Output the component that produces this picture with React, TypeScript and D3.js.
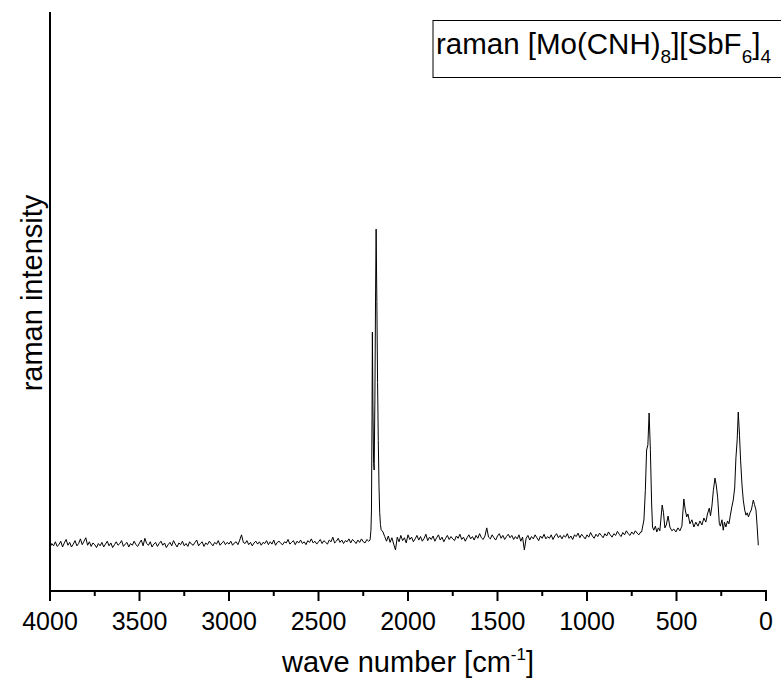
import React from 'react';
import * as d3 from 'd3';

// ---- Data ----
const xMajorTicks = [4000, 3500, 3000, 2500, 2000, 1500, 1000, 500, 0];
const xMinorTicks = [3750, 3250, 2750, 2250, 1750, 1250, 750, 250];

// 4000 -> 2220 cm-1 baseline
const highWn = [
  4000,3990,3980,3970,3960,3950,3940,3930,3920,3910,
  3900,3890,3880,3870,3860,3850,3840,3830,3820,3810,
  3800,3790,3780,3770,3760,3750,3740,3730,3720,3710,
  3700,3690,3680,3670,3660,3650,3640,3630,3620,3610,
  3600,3590,3580,3570,3560,3550,3540,3530,3520,3510,
  3500,3490,3480,3470,3460,3450,3440,3430,3420,3410,
  3400,3390,3380,3370,3360,3350,3340,3330,3320,3310,
  3300,3290,3280,3270,3260,3250,3240,3230,3220,3210,
  3200,3190,3180,3170,3160,3150,3140,3130,3120,3110,
  3100,3090,3080,3070,3060,3050,3040,3030,3020,3010,
  3000,2990,2980,2970,2960,2950,2940,2930,2920,2910,
  2900,2890,2880,2870,2860,2850,2840,2830,2820,2810,
  2800,2790,2780,2770,2760,2750,2740,2730,2720,2710,
  2700,2690,2680,2670,2660,2650,2640,2630,2620,2610,
  2600,2590,2580,2570,2560,2550,2540,2530,2520,2510,
  2500,2490,2480,2470,2460,2450,2440,2430,2420,2410,
  2400,2390,2380,2370,2360,2350,2340,2330,2320,2310,
  2300,2290,2280,2270,2260,2250,2240,2230,2220,
];
const highI = [
  7.5, 8.2, 7.8, 8.5, 7.7, 8.0, 8.6, 7.6, 8.3, 8.9,
  7.9, 8.4, 7.6, 8.1, 8.7, 7.8, 8.2, 9.0, 8.0, 8.6,
  9.2, 7.9, 8.5, 7.7, 8.3, 8.0, 7.5, 8.2, 7.8, 8.4,
  7.6, 8.1, 8.6, 7.8, 8.3, 7.5, 8.0, 8.5, 7.9, 8.2,
  8.7, 7.7, 8.1, 8.4, 7.6, 8.2, 7.9, 8.6, 8.0, 7.7,
  8.3, 8.8, 7.8, 9.1, 8.2, 7.9, 8.5, 7.6, 8.1, 8.4,
  7.7, 8.2, 8.6, 7.9, 8.3, 7.5, 8.0, 8.4, 7.8, 8.7,
  8.1, 7.6, 8.3, 8.0, 8.6, 7.8, 8.2, 7.7, 8.5, 8.1,
  7.9, 8.4, 8.8, 7.8, 8.2, 8.5, 7.7, 8.3, 8.0, 8.6,
  8.2, 7.8, 8.4, 8.1, 8.7, 7.9, 8.3, 8.6, 8.0, 8.4,
  8.1, 8.6, 7.9, 8.3, 8.5, 8.0, 8.8, 9.7, 8.4, 8.2,
  8.7, 8.0, 8.4, 7.8, 8.3, 8.6, 8.1, 8.5, 7.9, 8.4,
  8.2, 8.7, 8.0, 8.5, 8.1, 8.8, 7.9, 8.4, 8.6, 8.2,
  8.0, 8.5, 8.3, 8.9, 8.1, 8.4, 8.7, 8.0, 8.6, 8.3,
  8.8, 8.2, 8.5, 8.0, 8.7, 8.4, 9.0, 8.3, 8.6, 8.1,
  8.5, 8.9, 8.2, 8.7, 8.4, 8.1, 8.8, 8.5, 9.3, 8.3,
  8.6, 9.1, 8.4, 8.8, 8.2, 8.7, 8.5, 9.0, 8.3, 8.9,
  8.6, 8.2, 8.8, 8.4, 9.0, 8.5, 8.3, 8.9, 8.6,
];

// C≡N stretching doublet
const cnWn = [2212, 2207, 2204, 2201, 2199, 2196, 2192, 2189, 2185, 2181, 2178, 2174, 2170, 2166, 2162, 2158, 2154, 2150];
const cnI = [8.8, 10.5, 14, 30, 44.7, 32, 22, 20.9, 33, 52, 62.5, 50, 36, 26, 18, 13.5, 11.5, 10.6];

// 2140 -> 700 cm-1 baseline
const midWn = [
  2140,2130,2120,2110,2100,2090,2080,2070,2060,2050,
  2040,2030,2020,2010,2000,1990,1980,1970,1960,1950,
  1940,1930,1920,1910,1900,1890,1880,1870,1860,1850,
  1840,1830,1820,1810,1800,1790,1780,1770,1760,1750,
  1740,1730,1720,1710,1700,1690,1680,1670,1660,1650,
  1640,1630,1620,1610,1600,1590,1580,1570,1560,1550,
  1540,1530,1520,1510,1500,1490,1480,1470,1460,1450,
  1440,1430,1420,1410,1400,1390,1380,1370,1360,1350,
  1340,1330,1320,1310,1300,1290,1280,1270,1260,1250,
  1240,1230,1220,1210,1200,1190,1180,1170,1160,1150,
  1140,1130,1120,1110,1100,1090,1080,1070,1060,1050,
  1040,1030,1020,1010,1000,990,980,970,960,950,
  940,930,920,910,900,890,880,870,860,850,
  840,830,820,810,800,790,780,770,760,750,
  740,730,720,710,700,
];
const midI = [
  10.2, 9.4, 8.6, 9.5, 8.4, 9.2, 8.1, 7.1, 9.3, 8.5,
  9.6, 8.7, 9.2, 8.3, 9.7, 8.9, 9.3, 8.5, 9.0, 9.6,
  8.8, 9.4, 8.6, 9.1, 9.8, 8.7, 9.3, 8.9, 9.5, 8.6,
  9.2, 9.7, 8.8, 9.3, 8.5, 9.1, 9.6, 8.9, 9.4, 9.0,
  8.7, 9.5, 9.1, 9.8, 8.9, 9.3, 8.6, 9.2, 9.7, 9.0,
  9.4, 8.8, 9.6, 9.1, 9.9, 9.2, 8.9, 9.5, 10.9, 9.3,
  9.0, 9.7, 9.2, 8.8, 9.5, 9.9, 9.1, 9.6, 8.9, 9.4,
  9.8, 9.2, 9.6, 8.9, 9.4, 9.0, 9.7, 8.6, 9.3, 7.1,
  9.1, 9.6, 8.8, 9.4, 9.0, 9.7, 9.2, 8.7, 9.5, 9.1,
  9.8, 9.0, 9.4, 9.1, 9.7, 8.9, 9.5, 9.9, 9.2, 9.6,
  9.0, 9.6, 9.3, 9.9, 9.1, 9.5, 8.9, 9.7, 9.4, 10.0,
  9.2, 9.8, 9.4, 9.0, 9.7, 9.3, 10.1, 9.5, 9.1, 9.8,
  9.4, 10.0, 9.6, 9.2, 9.9, 9.5, 10.2, 9.7, 9.3, 9.9,
  9.6, 10.3, 9.8, 9.4, 10.1, 9.7, 10.4, 9.9, 9.6, 10.2,
  9.8, 10.4, 10.0, 9.7, 10.2,
];

// 695 -> 43 cm-1 region
const lowWn = [
  695, 682, 674, 667, 660, 653, 646, 639, 634, 627, 618, 610, 601, 593, 580, 573, 565, 557, 547, 537,
  526, 515, 503, 492, 481, 470, 459, 451, 443, 436, 425, 414, 403, 392, 380, 369, 358, 347, 336, 327,
  317, 310, 302, 294, 285, 278, 270, 261, 255, 246, 239, 232, 224, 215, 207, 199, 191, 183, 175, 168,
  161, 155, 148, 142, 134, 127, 119, 112, 105, 98, 90, 82, 76, 71, 64, 56, 50, 43,
];
const lowI = [
  10.19, 12.26, 17.4, 24.35, 25.2, 30.74, 24.4, 15.2, 11.05, 10.5, 11.2, 10.2, 10.9, 10.4, 14.85, 13.6, 10.9, 11.4, 12.95, 11.05,
  10.4, 10.7, 10.2, 10.9, 10.4, 11.2, 15.9, 14.0, 12.8, 13.3, 11.6, 12.3, 11.05, 11.9, 11.2, 12.1, 11.4, 12.6, 11.9, 13.3,
  14.3, 13.0, 14.7, 17.4, 19.5, 18.3, 16.2, 11.7, 11.2, 12.3, 10.5, 11.9, 11.05, 12.1, 11.6, 13.1, 14.5, 15.7, 17.8, 23.0,
  26.1, 30.9, 26.9, 22.6, 18.3, 15.7, 14.0, 13.1, 13.5, 12.8, 13.5, 14.0, 14.9, 15.7, 14.9, 14.0, 11.4, 7.9,
];

const yTitle = 'raman intensity';

const FONT = '"Liberation Sans", Arial, sans-serif';

export default function App() {
  const W = 781;
  const H = 687;
  const x = d3.scaleLinear().domain([4000, 0]).range([50, 766]);
  const y = d3.scaleLinear().domain([0, 100]).range([591, 12]);

  const wn = [...highWn, ...cnWn, ...midWn, ...lowWn];
  const inten = [...highI, ...cnI, ...midI, ...lowI];
  const pts: [number, number][] = wn.map((w, i) => [w, inten[i]]);
  const line = d3
    .line<[number, number]>()
    .x((d) => x(d[0]))
    .y((d) => y(d[1]));

  const axisY = y(0);

  return (
    <svg
      width={W}
      height={H}
      style={{ position: 'absolute', left: 0, top: 0, background: '#fff' }}
      fontFamily={FONT}
    >
      <rect x={0} y={0} width={W} height={H} fill="#fff" />
      {/* spectrum */}
      <path d={line(pts) || ''} fill="none" stroke="#000" strokeWidth={1} strokeLinejoin="round" />

      {/* axes */}
      <line x1={x(4000)} x2={x(4000)} y1={y(100)} y2={axisY + 1} stroke="#000" strokeWidth={2} />
      <line x1={x(4000) - 1} x2={x(0) + 1} y1={axisY} y2={axisY} stroke="#000" strokeWidth={2} />
      {xMajorTicks.map((t) => (
        <g key={'M' + t}>
          <line x1={x(t)} x2={x(t)} y1={axisY} y2={axisY + 10} stroke="#000" strokeWidth={2} />
          <text x={x(t)} y={630} fontSize={25} textAnchor="middle" fill="#000">
            {t}
          </text>
        </g>
      ))}
      {xMinorTicks.map((t) => (
        <line key={'m' + t} x1={x(t)} x2={x(t)} y1={axisY} y2={axisY + 5} stroke="#000" strokeWidth={2} />
      ))}

      {/* axis titles */}
      <text x={408} y={672} fontSize={29} textAnchor="middle" fill="#000">
        wave number [cm
        <tspan fontSize={17} dy={-12}>-1</tspan>
        <tspan dy={12}>]</tspan>
      </text>
      <text
        transform={`translate(41.5,293) rotate(-90)`}
        fontSize={29}
        textAnchor="middle"
        fill="#000"
      >
        {yTitle}
      </text>

      {/* legend */}
      <rect x={433} y={20.5} width={360} height={57} fill="#fff" stroke="#000" strokeWidth={1} />
      <text x={436} y={54} fontSize={29.5} fill="#000">
        raman [Mo(CNH)
        <tspan fontSize={19} dy={9}>8</tspan>
        <tspan dy={-9}>][SbF</tspan>
        <tspan fontSize={19} dy={9}>6</tspan>
        <tspan dy={-9}>]</tspan>
        <tspan fontSize={19} dy={9}>4</tspan>
      </text>
    </svg>
  );
}
